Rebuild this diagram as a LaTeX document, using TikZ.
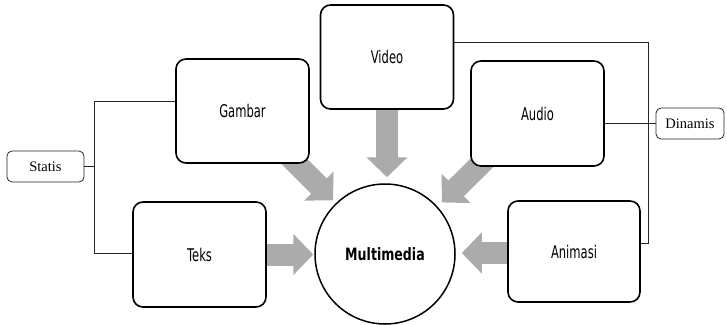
\documentclass[tikz,border=0pt]{standalone}
\usepackage{fontspec}
\usepackage{xcolor}
\usepackage{tikz}
\usetikzlibrary{positioning,arrows.meta,calc,backgrounds}
\setmainfont{Liberation Serif}
\newfontfamily\boxfont[FakeStretch=0.66]{DejaVu Sans}
\newfontfamily\hubfont[FakeStretch=0.74]{DejaVu Sans}
\definecolor{mmGray}{HTML}{ABABAB}
\definecolor{mmLine}{HTML}{262626}
\tikzset{
  media/.style={draw=black,fill=white,rounded corners=10pt,line width=1.6pt,
    minimum width=133pt,minimum height=104pt,font=\boxfont\fontsize{17.5}{20}\selectfont},
  group/.style={draw=mmLine,fill=white,rounded corners=5pt,line width=0.8pt,
    minimum height=31pt,font=\fontsize{14.5}{17}\selectfont},
  hub/.style={circle,draw=black,fill=white,line width=1.5pt,inner sep=0pt,
    minimum size=140pt,font=\hubfont\bfseries\fontsize{17}{20}\selectfont},
  feed/.style={-{Triangle[length=20pt,width=40pt]},line width=22pt,draw=mmGray},
  link/.style={draw=mmLine,line width=0.8pt}
}
\begin{document}
\begin{tikzpicture}[x=1pt,y=-1pt]
  \useasboundingbox (0,0) rectangle (727,324);
  \node[media] (gambar) at (242.5,111) {Gambar};
  \node[media] (video) at (387,57) {Video};
  \node[media, minimum height=105pt] (audio) at (537.5,113.5) {Audio};
  \node[media, minimum width=132pt, minimum height=101pt] (animasi) at (574,251.5) {Animasi};
  \node[media, minimum height=105pt] (teks) at (199.5,254.5) {Teks};
  \node[hub] (mm) at (385,254) {Multimedia};

  \node[group, minimum width=77pt] (statis) at (45.5,166.5) {Statis};
  \node[group, minimum width=68pt] (dinamis) at (690,123.5) {Dinamis};

  % grey block arrows behind the boxes
  \begin{scope}[on background layer]
    \draw[feed, shorten >=4pt] ([xshift=-26pt,yshift=13pt]gambar.south east) -- (mm.134);
    \draw[feed, shorten >=6pt] ([yshift=10pt]video.south) -- (video.south |- mm.north);
    \draw[feed, shorten >=6pt] ([xshift=24pt,yshift=16pt]audio.south west) -- (mm.42);
    \draw[feed, shorten >=1pt] ([xshift=-5pt]teks.east) -- (teks.east -| mm.west);
    \draw[feed, shorten >=6pt] ([xshift=5pt,yshift=-1.5pt]animasi.west) -- ([yshift=-1.5pt]animasi.west -| mm.east);
  \end{scope}

  % brackets
  \coordinate (sj) at ($(statis.east)+(10pt,0)$);
  \coordinate (dj) at ($(dinamis.west)+(-7pt,0)$);
  \draw[link] (statis.east) -- (sj);
  \draw[link] ([yshift=10pt]gambar.west) -| (sj) |- ([yshift=1.5pt]teks.west);
  \draw[link] ([yshift=15pt]video.east) -| (dj) |- ([yshift=8.5pt]animasi.east);
  \draw[link] (audio.east |- dinamis.west) -- (dinamis.west);
\end{tikzpicture}
\end{document}
